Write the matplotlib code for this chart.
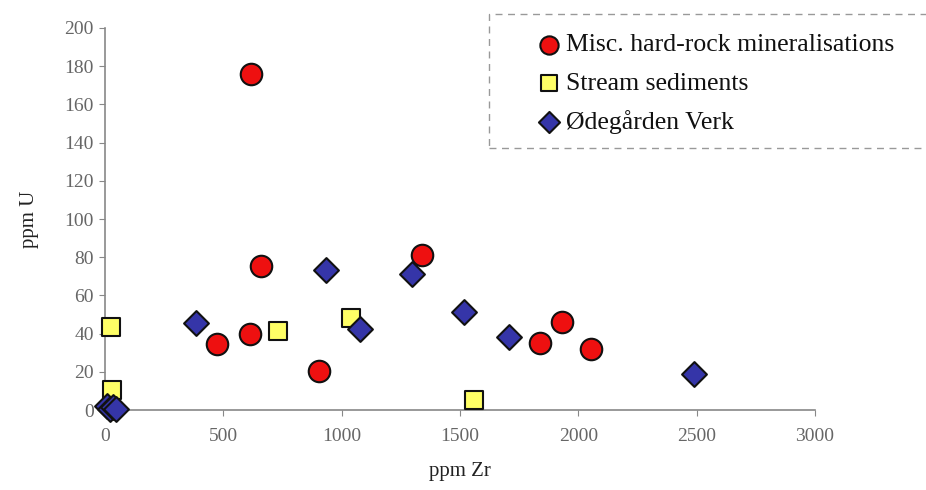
import matplotlib
matplotlib.use("Agg")
import matplotlib.pyplot as plt
from matplotlib.patches import Rectangle

# Data
misc_zr = [616, 659, 613, 475, 906, 1339, 1840, 1929, 2054]
misc_u = [176, 75.5, 39.6, 34.4, 20.4, 81.2, 34.9, 45.9, 31.9]

stream_zr = [24, 31, 732, 1038, 1560]
stream_u = [43.6, 10.5, 41.4, 48.0, 5.2]

ode_zr = [383, 933, 1078, 1296, 1517, 1706, 2487, 10, 22, 35, 48]
ode_u = [45.4, 73.3, 42.3, 71.0, 51.5, 38.1, 19.0, 2, 0.5, 1.5, 0.5]

labels = ["Misc. hard-rock mineralisations", "Stream sediments", "\u00d8deg\u00e5rden Verk"]

plt.rcParams['font.family'] = ['Liberation Serif', 'DejaVu Serif']

fig = plt.figure(figsize=(9.26, 4.9), dpi=100)
ax = fig.add_axes([105/926, 1-410/490, (815-105)/926, (410-28)/490])

edge = '#111111'
h1 = ax.scatter(misc_zr, misc_u, s=240, marker='o', facecolor='#ee1010', edgecolor=edge, linewidth=1.5, zorder=3, clip_on=False)
h2 = ax.scatter(stream_zr, stream_u, s=170, marker='s', facecolor='#ffff66', edgecolor=edge, linewidth=1.5, zorder=3, clip_on=False)
h3 = ax.scatter(ode_zr, ode_u, s=160, marker='D', facecolor='#3535a8', edgecolor=edge, linewidth=1.5, zorder=4, clip_on=False)

ax.set_xlim(0, 3000)
ax.set_ylim(0, 200)
ax.set_xticks(range(0, 3001, 500))
ax.set_yticks(range(0, 201, 20))
for s in ['top', 'right']:
    ax.spines[s].set_visible(False)
for s in ['left', 'bottom']:
    ax.spines[s].set_color('#888888')
    ax.spines[s].set_linewidth(1.2)
ax.tick_params(axis='both', colors='#888888', labelcolor='#666666', labelsize=14, length=4, direction='out')
ax.tick_params(axis='x', pad=9)
ax.tick_params(axis='y', pad=4)
ax.set_xlabel('ppm Zr', fontsize=15, color='#222222', labelpad=12)
ax.set_ylabel('ppm U', fontsize=15, color='#222222', labelpad=18)

# dashed legend frame
rect = Rectangle((489/926, 1-148/490), (935-489)/926, (148-14)/490, transform=fig.transFigure,
                 fill=False, edgecolor='#999999', linestyle=(0, (5, 4)), linewidth=1.0)
fig.patches.append(rect)

leg = fig.legend([h1, h2, h3], labels, loc='upper left',
                 bbox_to_anchor=(521/926, 1-18/490), frameon=False,
                 fontsize=18.5, handletextpad=0.15, labelspacing=0.6,
                 markerscale=0.85, borderpad=0.1, handlelength=1.0)
for t in leg.get_texts():
    t.set_color('#111111')

fig.savefig('out.png', dpi=100)
